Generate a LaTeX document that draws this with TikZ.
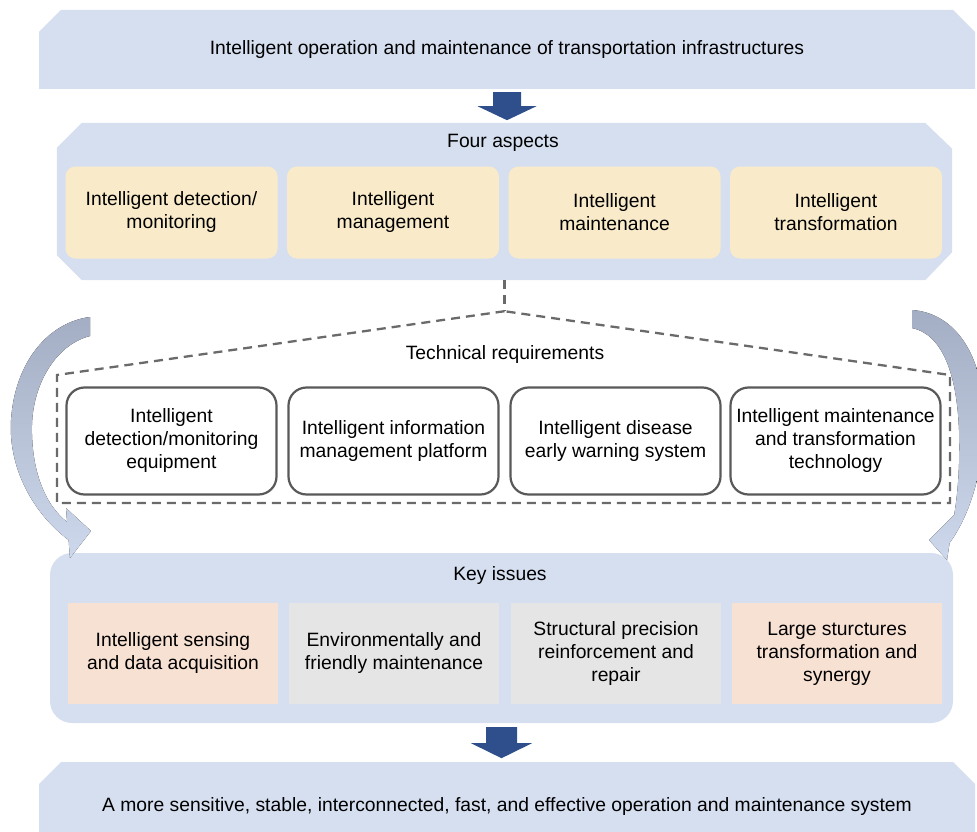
\documentclass[tikz,border=0pt]{standalone}
\usepackage{fontspec}
\setmainfont{Liberation Sans}
\usetikzlibrary{shapes.misc,calc}
\definecolor{panelblue}{HTML}{D6DFF0}
\definecolor{arrowblue}{HTML}{2E4F8C}
\definecolor{aspectyellow}{HTML}{F9EBC9}
\definecolor{issuepeach}{HTML}{F7E1D3}
\definecolor{issuegray}{HTML}{E5E5E5}
\definecolor{framegray}{HTML}{595959}
\definecolor{loopdark}{HTML}{A3AEC4}
\definecolor{looplight}{HTML}{CDD8EC}
\tikzset{
	panel/.style={fill=panelblue,inner sep=0pt},
	cutpanel/.style={panel,chamfered rectangle,chamfered rectangle xsep=#1,chamfered rectangle ysep=#1},
	aspectbox/.style={fill=aspectyellow,rounded corners=10pt,minimum width=212,minimum height=92,align=center},
	techbox/.style={draw=framegray,line width=2.2pt,fill=white,rounded corners=18pt,minimum width=210,minimum height=107,align=center},
	issuebox/.style={minimum width=210,minimum height=101,align=center},
	bigarrow/.style={fill=arrowblue},
	loop/.style={top color=loopdark,bottom color=looplight},
	groupline/.style={draw=framegray!90,line width=2.3pt,dash pattern=on 9pt off 6pt},
}
\begin{document}
\begin{tikzpicture}[x=1pt,y=-1pt,font=\fontsize{19.3}{23}\selectfont]
	\useasboundingbox (0,0) rectangle (977,832);
	\clip (0,0) rectangle (977,832);
	\node[cutpanel=13pt,chamfered rectangle corners={north west,north east},minimum width=936,minimum height=79] (top) at (507,49.5) {Intelligent operation and maintenance of transportation infrastructures};
	\node[inner sep=0pt,minimum width=895,minimum height=157] (aspects) at (504.5,201.5) {};
	\fill[panelblue] ($(aspects.north west)+(25,0)$) -- ($(aspects.north east)+(-27,0)$) -- ($(aspects.north east)+(0,26)$) -- ($(aspects.south east)+(0,-28)$) -- ($(aspects.south east)+(-27,0)$) -- ($(aspects.south west)+(25,0)$) -- ($(aspects.south west)+(0,-25)$) -- ($(aspects.north west)+(0,25)$) -- cycle;
	\node[panel,rounded corners=22pt,minimum width=903,minimum height=170] (issues) at (501.5,638) {};
	\node[cutpanel=13pt,chamfered rectangle corners={north west,north east},minimum width=936,minimum height=90] (goal) at (507,807) {A more sensitive, stable, interconnected, fast, and effective operation and maintenance system};

	\node (aspectstitle) at (503,143) {Four aspects};
	\node[aspectbox] (detect) at (171.5,212.5) {Intelligent detection/\\monitoring};
	\node[aspectbox] (manage) at (393,212.5) {Intelligent\\management};
	\node[aspectbox] (maintain) at (614.5,212.5) {Intelligent\\maintenance};
	\node[aspectbox] (transform) at (836,212.5) {Intelligent\\transformation};

	\fill[bigarrow] (top.south) ++(-14,3) -- ++(28,0) -- ++(0,14) -- ++(15.5,0) -- ++(-29.5,14) -- ++(-29.5,-14) -- ++(15.5,0) -- cycle;

	\draw[groupline] (aspects.south) -- ++(0,31) coordinate (apex);
	\draw[groupline] (apex) -- (57,375) -- (57,503) -- (950,503) -- (950,375) -- cycle;
	\node (techtitle) at (505,355) {Technical requirements};
	\node[techbox] (equipment) at (171.5,441) {Intelligent\\detection/monitoring\\equipment};
	\node[techbox] (platform) at (393.5,441) {Intelligent information\\management platform};
	\node[techbox] (warning) at (615.5,441) {Intelligent disease\\early warning system};
	\node[techbox] (technology) at (835.5,441) {Intelligent maintenance\\and transformation\\technology};

	\node (issuestitle) at (500,576) {Key issues};
	\node[issuebox,fill=issuepeach] (sensing) at (173,653.5) {Intelligent sensing\\and data acquisition};
	\node[issuebox,fill=issuegray] (friendly) at (394,653.5) {Environmentally and\\friendly maintenance};
	\node[issuebox,fill=issuegray] (repair) at (616,653.5) {Structural precision\\reinforcement and\\repair};
	\node[issuebox,fill=issuepeach] (synergy) at (837,653.5) {Large sturctures\\transformation and\\synergy};

	\fill[bigarrow] (issues.south) ++(-15.5,4) -- ++(31,0) -- ++(0,16) -- ++(15,0) -- ++(-30.5,15) -- ++(-30.5,-15) -- ++(15,0) -- cycle;

	\fill[loop] (90,317) .. controls (50,322) and (15,360) .. (11,420) .. controls (8,470) and (35,515) .. (68.6,540) -- (70,558) -- (91,531) -- (66,508) -- (67.1,522) .. controls (45,505) and (31,470) .. (32,425) .. controls (33,385) and (55,345) .. (90,336) -- cycle;
	\fill[loop] (912,310) .. controls (955,313) and (984,355) .. (984,420) .. controls (984,470) and (970,515) .. (949.6,543) -- (947,560) -- (929,540) -- (954,515) -- (953.1,521) .. controls (958,495) and (960,465) .. (959,430) .. controls (957,380) and (945,335) .. (912,328) -- cycle;
\end{tikzpicture}
\end{document}
